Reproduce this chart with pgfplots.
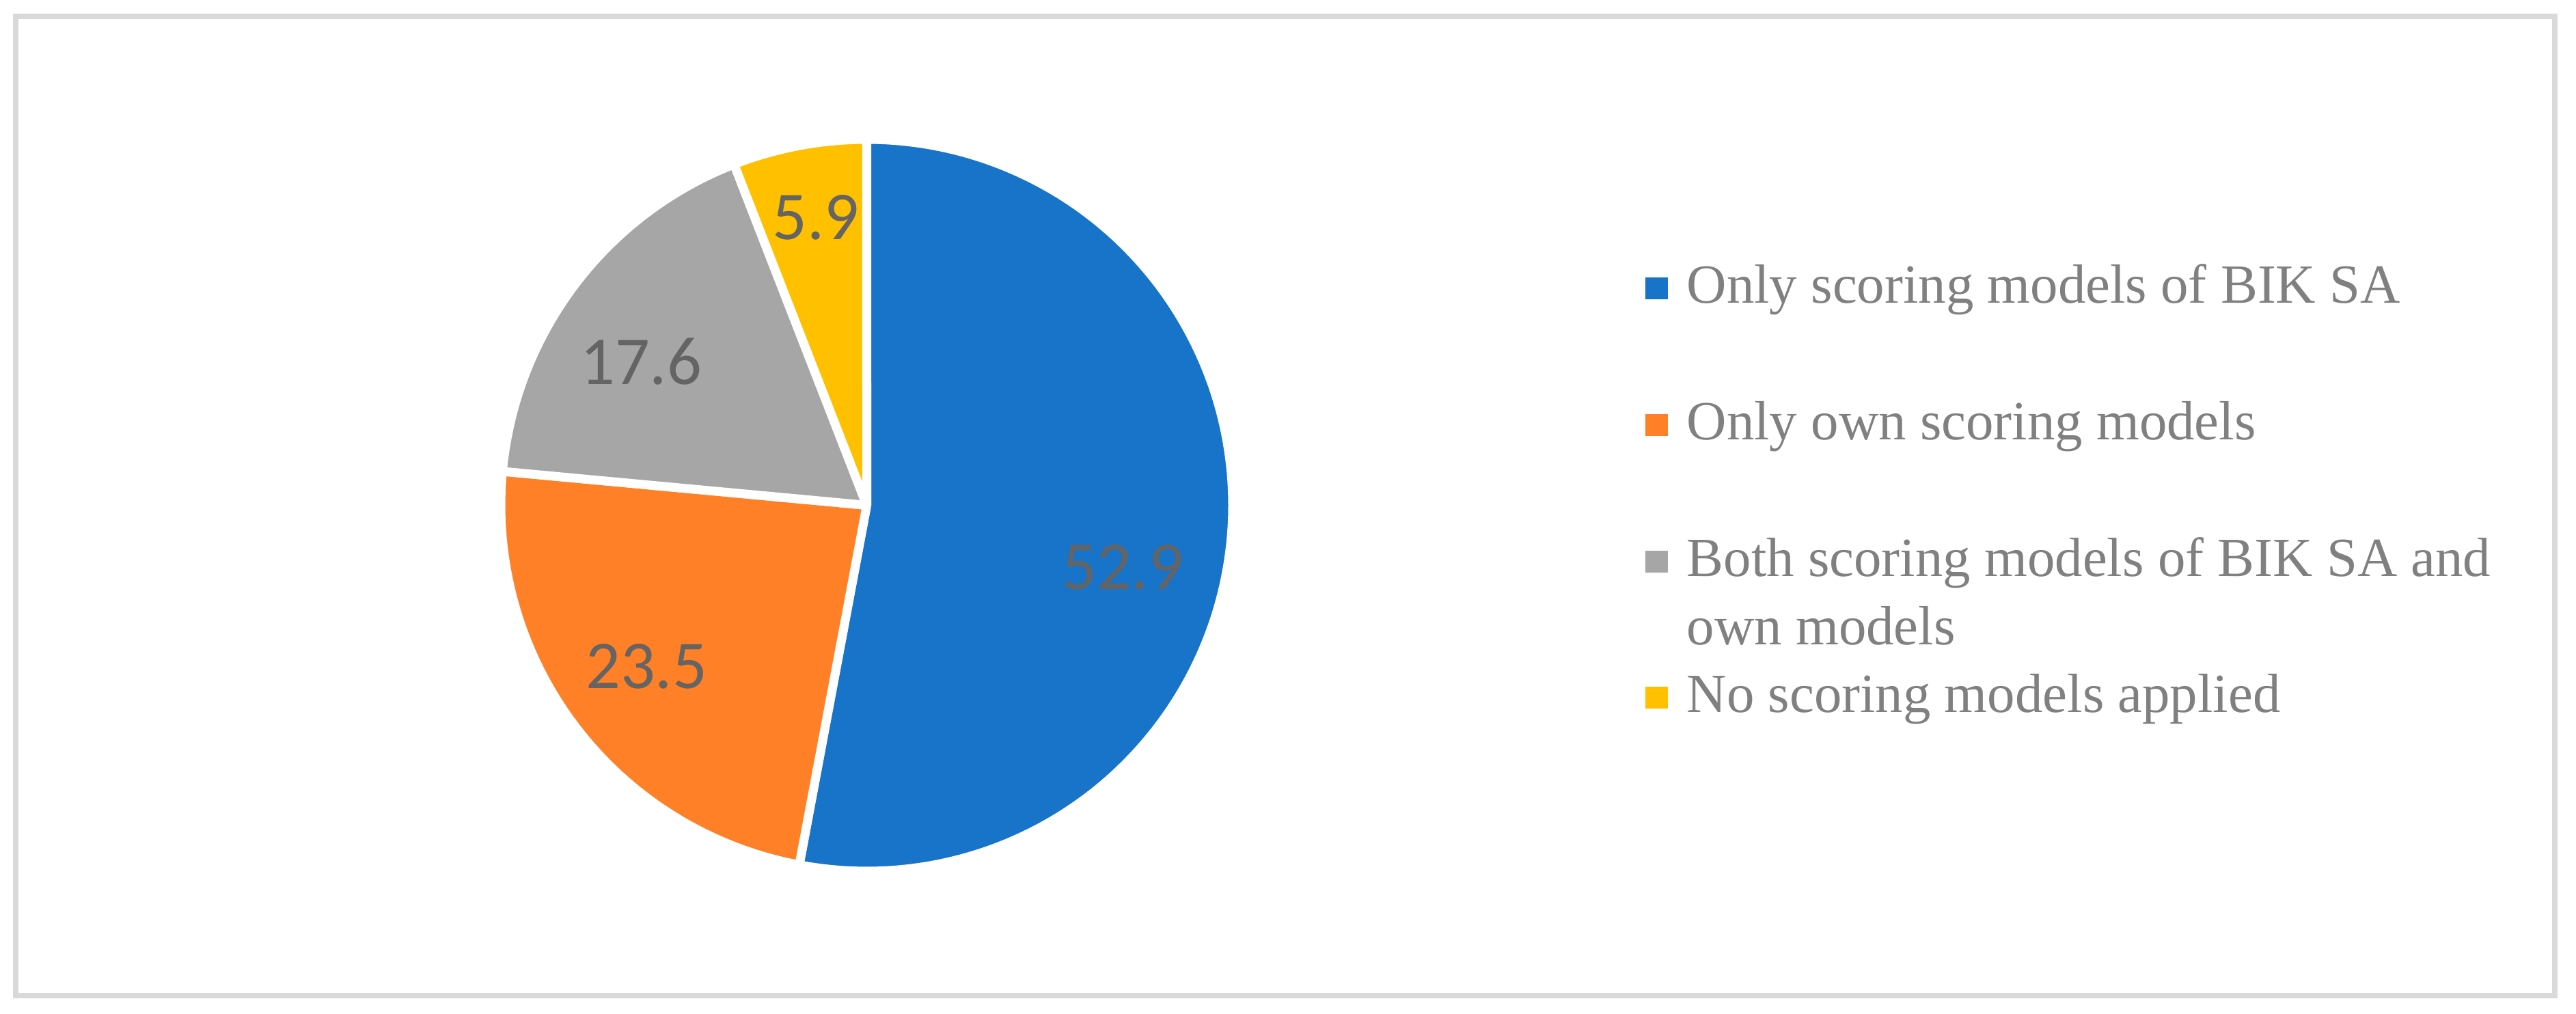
\documentclass[border=0pt]{standalone}
\usepackage{pgfplots}
\pgfplotsset{compat=1.18}
\usepackage{fontspec}
\setmainfont{Liberation Serif}
\newfontfamily\labelfont{Carlito}
\definecolor{PieBlue}{RGB}{24,116,201}
\definecolor{PieOrange}{RGB}{255,128,38}
\definecolor{PieGray}{RGB}{166,166,166}
\definecolor{PieYellow}{RGB}{255,192,0}
\definecolor{LabelGray}{RGB}{100,100,100}
\definecolor{LegendGray}{RGB}{128,128,128}
\definecolor{FrameGray}{RGB}{217,217,217}

% shares (percent)
\def\va{52.9}
\def\vb{23.5}
\def\vc{17.6}
\def\vd{5.9}

\begin{document}
\begin{tikzpicture}
\useasboundingbox (0,0) rectangle (37.7,14.84);
\draw[FrameGray, line width=0.08cm] (0.23,0.265) rectangle (37.39,14.60);

\pgfmathsetmacro\tot{\va+\vb+\vc+\vd}
\pgfmathsetmacro\aA{90-360*(\va/\tot)}
\pgfmathsetmacro\aB{\aA-360*(\vb/\tot)}
\pgfmathsetmacro\aC{\aB-360*(\vc/\tot)}
\pgfmathsetmacro\aD{\aC-360*(\vd/\tot)}

\begin{axis}[hide axis, x=5.355cm, y=5.355cm,
  xmin=-1, xmax=1, ymin=-1, ymax=1,
  anchor=origin, at={(12.685cm,7.445cm)}, clip=false,
  every axis plot/.append style={draw=white, line width=0.13cm, line join=round, samples=181, data cs=polar}]
  \addplot[fill=PieBlue, domain=\aA:90] {1} -- (axis cs:0,0) -- cycle;
  \addplot[fill=PieOrange, domain=\aB:\aA] {1} -- (axis cs:0,0) -- cycle;
  \addplot[fill=PieGray, domain=\aC:\aB] {1} -- (axis cs:0,0) -- cycle;
  \addplot[fill=PieYellow, domain=\aD:\aC] {1} -- (axis cs:0,0) -- cycle;
\end{axis}

% data labels
\begin{scope}[every node/.style={font=\labelfont\fontsize{28.5}{30}\selectfont, text=LabelGray, inner sep=0pt}]
  \node at (16.43,6.54) {52.9};
  \node at (9.46,5.09) {23.5};
  \node at (9.38,9.55) {17.6};
  \node at (11.94,11.66) {5.9};
\end{scope}

% legend
\begin{scope}[every node/.style={font=\fontsize{23}{27}\selectfont, text=LegendGray, inner sep=0pt, anchor=base west}]
  \fill[PieBlue] (24.08,10.40+0.06) rectangle ++(0.33,0.32);
  \node at (24.68,10.40) {Only scoring models of BIK SA};
  \fill[PieOrange] (24.08,8.40+0.06) rectangle ++(0.33,0.32);
  \node at (24.68,8.40) {Only own scoring models};
  \fill[PieGray] (24.08,6.40+0.06) rectangle ++(0.33,0.32);
  \node at (24.68,6.40) {Both scoring models of BIK SA and};
  \node at (24.68,5.40) {own models};
  \fill[PieYellow] (24.08,4.41+0.06) rectangle ++(0.33,0.32);
  \node at (24.68,4.41) {No scoring models applied};
\end{scope}
\end{tikzpicture}
\end{document}
